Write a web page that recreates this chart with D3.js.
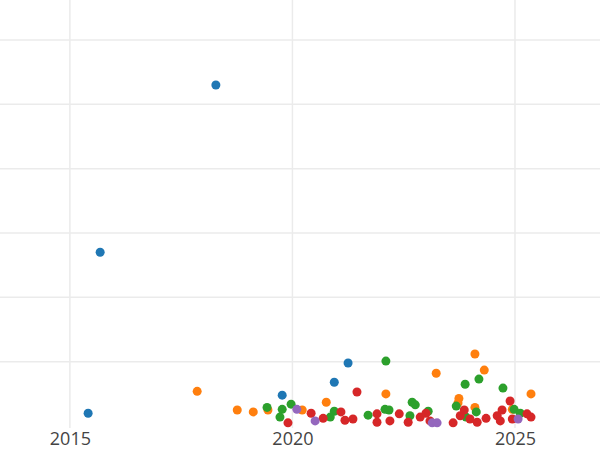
<!DOCTYPE html>
<html><head><meta charset="utf-8">
<script src="https://cdn.jsdelivr.net/npm/d3@7"></script>
<style>body{margin:0;background:#fff}svg{display:block}</style>
</head><body><svg id="chart" width="600" height="450"></svg>
<script>
// data: [year, value]
const blue = [[2018.28,5.30],[2015.68,2.70],[2015.41,0.20],[2019.77,0.48],[2020.94,0.68],[2021.25,0.98]];
const orange = [[2017.86,0.54],[2018.76,0.25],[2019.12,0.22],[2019.45,0.25],[2020.22,0.25],[2020.76,0.37],[2022.10,0.50],[2023.23,0.82],[2024.10,1.12],[2024.31,0.87],[2023.74,0.43],[2024.10,0.29],[2025.36,0.50],[2024.94,0.26],[2023.72,0.36]];
const green = [[2022.10,1.01],[2023.88,0.65],[2024.19,0.73],[2024.73,0.59],[2019.43,0.29],[2019.77,0.26],[2019.97,0.34],[2019.72,0.14],[2020.94,0.23],[2020.85,0.14],[2021.70,0.17],[2022.08,0.26],[2022.17,0.25],[2022.69,0.37],[2022.76,0.33],[2022.64,0.16],[2023.05,0.23],[2023.68,0.31],[2023.90,0.14],[2024.13,0.22],[2024.98,0.26],[2025.12,0.20]];
const red = [[2021.45,0.53],[2019.90,0.05],[2020.42,0.20],[2020.69,0.12],[2021.09,0.22],[2021.18,0.09],[2021.36,0.11],[2021.90,0.19],[2021.90,0.06],[2022.19,0.08],[2022.40,0.19],[2022.60,0.06],[2022.87,0.14],[2023.00,0.20],[2023.09,0.08],[2023.61,0.05],[2023.77,0.16],[2023.86,0.25],[2023.99,0.11],[2024.15,0.06],[2024.35,0.12],[2024.60,0.16],[2024.67,0.08],[2024.71,0.25],[2024.89,0.39],[2024.94,0.11],[2025.27,0.19],[2025.36,0.14]];
const purple = [[2020.10,0.26],[2020.51,0.08],[2023.14,0.05],[2023.25,0.05],[2025.07,0.11]];
const xTicks = [2015, 2020, 2025];
const yGrid = [1, 2, 3, 4, 5, 6];

const series = [
    {pts: blue, color: '#1f77b4'},
    {pts: orange, color: '#ff7f0e'},
    {pts: green, color: '#2ca02c'},
    {pts: red, color: '#d62728'},
    {pts: purple, color: '#9467bd'},
];

const svg = d3.select('#chart');
const plotH = 428;
const x = d3.scaleLinear().domain([2013.43, 2026.91]).range([0, 600]);
const y = d3.scaleLinear().domain([-0.03, 6.62]).range([plotH, 0]);

svg.append('clipPath').attr('id', 'clip')
    .append('rect').attr('width', 600).attr('height', plotH);

//grid lines
svg.append('g').selectAll('line').data(xTicks).enter().append('line')
    .attr('x1', d => x(d)).attr('x2', d => x(d))
    .attr('y1', 0).attr('y2', plotH)
    .attr('stroke', '#ebebeb').attr('stroke-width', 1.5);
svg.append('g').selectAll('line').data(yGrid).enter().append('line')
    .attr('x1', 0).attr('x2', 600)
    .attr('y1', d => y(d)).attr('y2', d => y(d))
    .attr('stroke', '#ebebeb').attr('stroke-width', 1.5);

const dots = svg.append('g').attr('clip-path', 'url(#clip)');
series.forEach(s => {
    dots.selectAll(null).data(s.pts).enter().append('circle')
        .attr('cx', d => x(d[0])).attr('cy', d => y(d[1]))
        .attr('r', 4.5).attr('fill', s.color);
});

//x axis labels
const xAxis = svg.append('g')
    .attr('transform', `translate(0,${plotH})`)
    .call(d3.axisBottom(x).tickValues(xTicks).tickFormat(d3.format('d')).tickSize(0).tickPadding(4));
xAxis.select('.domain').remove();
xAxis.selectAll('text')
    .attr('font-family', 'Open Sans, sans-serif')
    .attr('font-size', 18).attr('fill', '#444');
</script>
</body></html>
